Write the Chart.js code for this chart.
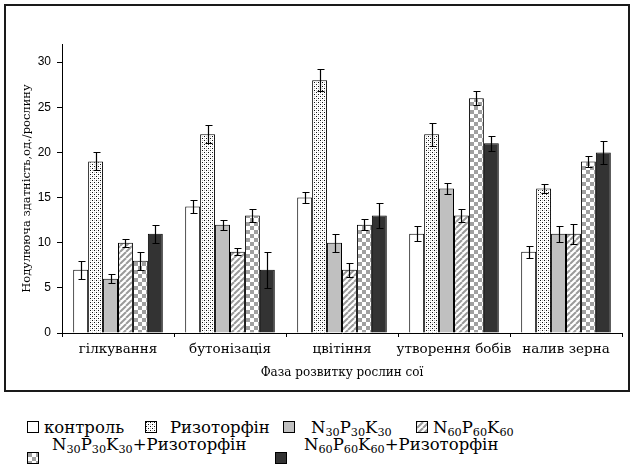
<!DOCTYPE html>
<html>
<head>
<meta charset="utf-8">
<script src="https://cdn.jsdelivr.net/npm/chart.js@4.4.0/dist/chart.umd.min.js"></script>
<style>
  body { margin: 0; background: #fff; }
  #wrap { position: relative; width: 631px; height: 473px; overflow: hidden; }
  #frame { position: absolute; left: 4px; top: 4px; width: 626px; height: 388px; box-sizing: border-box; border: 2px solid #1a1a1a; }
  #chartBox { position: absolute; left: 6px; top: 6px; width: 622px; height: 384px; }
  .box { position: absolute; width: 12px; height: 12px; box-sizing: border-box; border: 1px solid #000; }
  .lbl { position: absolute; font-family: "DejaVu Serif", serif; font-size: 16.5px; line-height: 20px; color: #000; white-space: nowrap; }
  .lbl sub { font-size: 0.68em; vertical-align: -0.25em; line-height: 0; }
</style>
</head>
<body>
<div id="wrap">
  <div id="frame"></div>
  <div id="chartBox"><canvas id="myChart" width="622" height="384"></canvas></div>
  <div id="legend"></div>
</div>
<script>
// categories and series
const categories = ['гілкування', 'бутонізація', 'цвітіння', 'утворення бобів', 'налив зерна'];

const control = [7, 14, 15, 11, 9];
const controlErr = [1.0, 0.75, 0.65, 0.8, 0.65];

const rizotorfin = [19, 22, 28, 22, 16];
const rizotorfinErr = [1.0, 1.0, 1.2, 1.3, 0.5];

const npk30 = [6, 12, 10, 16, 11];
const npk30Err = [0.5, 0.55, 1.0, 0.6, 0.9];

const npk60 = [10, 9, 7, 13, 11];
const npk60Err = [0.45, 0.4, 0.8, 0.75, 1.1];

const npk30Riz = [8, 13, 12, 26, 19];
const npk30RizErr = [1.0, 0.75, 0.65, 0.8, 0.6];

const npk60Riz = [11, 7, 13, 21, 20];
const npk60RizErr = [1.0, 2.0, 1.4, 0.8, 1.3];

const yMax = 32;
const yStep = 5;

const serif = '"DejaVu Serif", serif';
const sans = '"Liberation Sans", Arial, sans-serif';

// pattern tiles
function makeTile(w, h, draw) {
    const c = document.createElement('canvas');
    c.width = w; c.height = h;
    const g = c.getContext('2d');
    g.fillStyle = '#fff';
    g.fillRect(0, 0, w, h);
    draw(g);
    return c;
}

const dotTile = makeTile(4, 4, g => {
    g.fillStyle = '#111';
    g.fillRect(0, 0, 1, 1);
    g.fillRect(2, 2, 1, 1);
    g.fillStyle = '#c8c8c8';
    g.fillRect(2, 0, 1, 1);
    g.fillRect(0, 2, 1, 1);
});

const stripeTile = makeTile(6, 6, g => {
    g.strokeStyle = '#9a9a9a';
    g.lineWidth = 2;
    for (let k = -6; k <= 12; k += 6) {
        g.beginPath();
        g.moveTo(k, 6);
        g.lineTo(k + 6, 0);
        g.stroke();
    }
});

const checkTile = makeTile(8, 8, g => {
    g.fillStyle = '#a0a0a0';
    g.fillRect(0, 0, 4, 4);
    g.fillRect(4, 4, 4, 4);
});

const ctx = document.getElementById('myChart').getContext('2d');

const fills = [
    '#ffffff',
    ctx.createPattern(dotTile, 'repeat'),
    '#c0c0c0',
    ctx.createPattern(stripeTile, 'repeat'),
    ctx.createPattern(checkTile, 'repeat'),
    '#333333'
];

const series = [control, rizotorfin, npk30, npk60, npk30Riz, npk60Riz];
const errors = [controlErr, rizotorfinErr, npk30Err, npk60Err, npk30RizErr, npk60RizErr];

// error bars drawn from the data via the y scale
const errorBars = {
    id: 'errorBars',
    afterDatasetsDraw(chart) {
        const c = chart.ctx;
        const y = chart.scales.y;
        c.save();
        c.strokeStyle = '#000';
        c.lineWidth = 1.2;
        chart.data.datasets.forEach((ds, i) => {
            const meta = chart.getDatasetMeta(i);
            meta.data.forEach((bar, j) => {
                const v = ds.data[j];
                const e = errors[i][j];
                const yHi = Math.round(y.getPixelForValue(v + e)) + 0.5;
                const yLo = Math.round(y.getPixelForValue(v - e)) + 0.5;
                const x = Math.round(bar.x) + 0.5;
                c.beginPath();
                c.moveTo(x, yHi); c.lineTo(x, yLo);
                c.moveTo(x - 3, yHi); c.lineTo(x + 4, yHi);
                c.moveTo(x - 3, yLo); c.lineTo(x + 4, yLo);
                c.stroke();
            });
        });
        c.restore();
    }
};

new Chart(ctx, {
    type: 'bar',
    data: {
        labels: categories,
        datasets: series.map((d, i) => ({
            label: 's' + i,
            data: d,
            backgroundColor: fills[i],
            borderColor: '#000',
            borderWidth: 1,
            categoryPercentage: 0.8,
            barPercentage: 1.0
        }))
    },
    options: {
        responsive: false,
        animation: false,
        events: [],
        layout: { padding: { left: 0, right: 6, top: 38, bottom: 0 } },
        plugins: { legend: { display: false }, tooltip: { enabled: false } },
        scales: {
            x: {
                grid: { display: true, drawOnChartArea: false, color: '#000', tickLength: 4, offset: true },
                border: { color: '#000', width: 1 },
                ticks: { color: '#000', padding: 4, maxRotation: 0, autoSkip: false,
                         font: { family: serif, size: 13.5 } },
                title: { display: true, text: 'Фаза розвитку рослин сої', color: '#000',
                         font: { family: serif, size: 12 }, padding: { top: 0, bottom: 10 } },
                afterFit(scale) { scale.height = 57; }
            },
            y: {
                min: 0,
                max: yMax,
                grid: { display: true, drawOnChartArea: false, color: '#000', tickLength: 5 },
                border: { color: '#000', width: 1 },
                ticks: { stepSize: yStep, color: '#000', padding: 6,
                         font: { family: sans, size: 12 },
                         callback: v => (v % yStep === 0 && v <= 30) ? v : null },
                title: { display: true, text: 'Нодулююча здатність,од./рослину', color: '#000',
                         font: { family: serif, size: 11.5 }, padding: { top: 14, bottom: 0 } },
                afterFit(scale) { scale.width = 56; }
            }
        }
    },
    plugins: [errorBars]
});

// legend with subscripts
const legendItems = [
    { fill: '#ffffff', bx: 27, by: 421, tx: 44, ty: 418, html: 'контроль' },
    { tile: dotTile, bx: 145, by: 421, tx: 170, ty: 418, html: 'Ризоторфін' },
    { fill: '#c0c0c0', bx: 283, by: 421, tx: 311, ty: 418, html: 'N<sub>30</sub>P<sub>30</sub>K<sub>30</sub>' },
    { tile: stripeTile, bx: 416, by: 421, tx: 433, ty: 418, html: 'N<sub>60</sub>P<sub>60</sub>K<sub>60</sub>' },
    { tile: checkTile, bx: 27, by: 452, tx: 52, ty: 435, html: 'N<sub>30</sub>P<sub>30</sub>K<sub>30</sub>+Ризоторфін' },
    { fill: '#333333', bx: 275, by: 452, tx: 304, ty: 435, html: 'N<sub>60</sub>P<sub>60</sub>K<sub>60</sub>+Ризоторфін' }
];
const legend = document.getElementById('legend');
legendItems.forEach(it => {
    const b = document.createElement('div');
    b.className = 'box';
    b.style.left = it.bx + 'px';
    b.style.top = it.by + 'px';
    if (it.tile) b.style.backgroundImage = 'url(' + it.tile.toDataURL() + ')';
    else b.style.background = it.fill;
    legend.appendChild(b);
    const t = document.createElement('div');
    t.className = 'lbl';
    t.style.left = it.tx + 'px';
    t.style.top = it.ty + 'px';
    t.innerHTML = it.html;
    legend.appendChild(t);
});
</script>
</body>
</html>
